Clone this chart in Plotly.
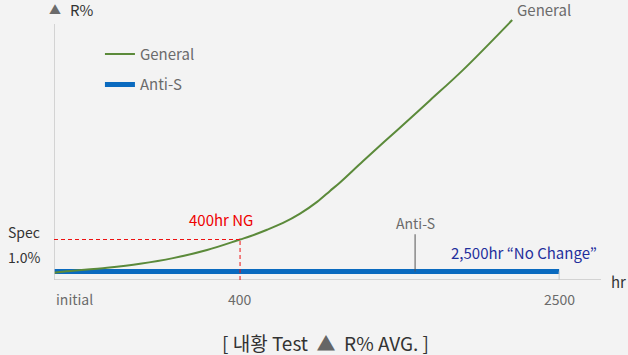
import numpy as np
import plotly.graph_objects as go

# ---- data ----
TICK_HOURS = [0, 400, 2500]
TICK_LABELS = ["initial", "400", "2500"]
TICK_POS = [0, 1, 2.715]          # broken (non-linear) time axis positions

general_hours = [0, 2, 114, 185, 256, 329, 400, 466, 578, 683, 795, 907, 992, 1058, 1210, 1434, 1651, 1868, 2191]
general_r = [0.17, 0.18, 0.30, 0.40, 0.54, 0.74, 1.00, 1.08, 1.24, 1.41, 1.64, 1.93, 2.20, 2.41, 2.94, 3.70, 4.44, 5.19, 6.42]
antis_hours = [0, 2500]
antis_r = [0.21, 0.21]
SPEC = 1.0
NG_HOUR = 400
ANTIS_LABEL_HOUR = 1552


def pos(h):
    return np.interp(h, TICK_HOURS, TICK_POS)


FONT = "Noto Sans CJK KR"
GREEN = "#5b8a3a"
BLUE = "#0a6abf"
GRAY = "#6b6b6b"
DARK = "#333333"
BG = "#f3f3f3"

fig = go.Figure()
fig.add_trace(go.Scatter(x=pos(antis_hours), y=antis_r, mode="lines", name="Anti-S",
                         line=dict(color=BLUE, width=5), legendrank=2, legendgroup="b"))
fig.add_trace(go.Scatter(x=pos(general_hours), y=general_r, mode="lines", name="General",
                         line=dict(color=GREEN, width=2, shape="spline", smoothing=1.0),
                         legendrank=1, legendgroup="a"))

x_top = 2.94
y_min, y_max = -0.0, 6.52

shapes = [
    dict(type="line", xref="x", yref="y", x0=0, x1=0, y0=0, y1=6.32,
         line=dict(color="#c8c8c8", width=1.5)),
    dict(type="line", xref="x", yref="y", x0=0, x1=x_top, y0=0, y1=0,
         line=dict(color="#c8c8c8", width=1.5)),
    dict(type="line", xref="x", yref="y", x0=0, x1=pos(NG_HOUR), y0=SPEC, y1=SPEC,
         line=dict(color="#ee1111", width=1, dash="4px,3px")),
    dict(type="line", xref="x", yref="y", x0=pos(NG_HOUR), x1=pos(NG_HOUR), y0=0, y1=SPEC,
         line=dict(color="#ee1111", width=1, dash="4px,3px")),
    dict(type="line", xref="x", yref="y", x0=pos(ANTIS_LABEL_HOUR), x1=pos(ANTIS_LABEL_HOUR),
         y0=antis_r[0], y1=1.13, line=dict(color="#555555", width=1)),
    dict(type="line", xref="x", yref="y", x0=pos(2500), x1=pos(2500), y0=0, y1=antis_r[0],
         line=dict(color="#c8c8c8", width=1)),
]

ann = []
for h, lab in zip(TICK_HOURS, TICK_LABELS):
    ann.append(dict(x=pos(h), y=0, xref="x", yref="y", text=lab, showarrow=False,
                    xanchor="left" if h == 0 else "center", yanchor="top", yshift=-7,
                    font=dict(family=FONT, size=14, color=GRAY)))
ann += [
    dict(x=1.0, y=0, xref="paper", yref="y", text="hr", showarrow=False, xanchor="left",
         yanchor="middle", xshift=8, yshift=-1, font=dict(family=FONT, size=15, color=DARK)),
    dict(x=0, y=1, xref="paper", yref="paper", text="▲", showarrow=False, xanchor="center",
         yanchor="middle", xshift=1, yshift=7, font=dict(family=FONT, size=12, color=GRAY)),
    dict(x=0, y=1, xref="paper", yref="paper", text="R%", showarrow=False, xanchor="left",
         yanchor="middle", xshift=14, yshift=7, font=dict(family=FONT, size=15, color=DARK)),
    dict(x=0, y=SPEC, xref="paper", yref="y", text="Spec", showarrow=False, xanchor="left",
         yanchor="middle", xshift=-48, yshift=8, font=dict(family=FONT, size=14, color=DARK)),
    dict(x=0, y=SPEC, xref="paper", yref="y", text="1.0%", showarrow=False, xanchor="left",
         yanchor="middle", xshift=-48, yshift=-17, font=dict(family=FONT, size=14, color=DARK)),
    dict(x=pos(NG_HOUR), y=SPEC, xref="x", yref="y", text="400hr NG", showarrow=False,
         xanchor="center", yanchor="bottom", xshift=-19, yshift=8,
         font=dict(family=FONT, size=15, color="#ee0000")),
    dict(x=pos(ANTIS_LABEL_HOUR), y=1.13, xref="x", yref="y", text="Anti-S", showarrow=False,
         xanchor="center", yanchor="bottom", yshift=-1, font=dict(family=FONT, size=14, color=GRAY)),
    dict(x=pos(2500), y=antis_r[0], xref="x", yref="y", text="2,500hr “No Change”", showarrow=False,
         xanchor="center", yanchor="bottom", xshift=-35, yshift=7,
         font=dict(family=FONT, size=15, color="#1f2f9c")),
    dict(x=pos(general_hours[-1]), y=general_r[-1], xref="x", yref="y", text="General", showarrow=False,
         xanchor="left", yanchor="bottom", xshift=3, yshift=-2,
         font=dict(family=FONT, size=15, color=GRAY)),
    dict(x=0.5, y=0, xref="paper", yref="paper", text="[ 내황 Test  <span style='color:#666666'>▲</span>  R% AVG. ]",
         showarrow=False, xanchor="center", yanchor="middle", xshift=-2, yshift=-62, borderpad=0,
         font=dict(family=FONT, size=19, color=DARK)),
]

fig.update_layout(
    width=628, height=355,
    margin=dict(l=54, r=27, t=16, b=75),
    paper_bgcolor=BG, plot_bgcolor=BG,
    showlegend=True,
    legend=dict(x=0.084, y=0.918, xanchor="left", yanchor="top", bgcolor="rgba(0,0,0,0)",
                font=dict(family=FONT, size=15, color=GRAY), tracegroupgap=8, itemwidth=30),
    xaxis=dict(range=[0, x_top], showgrid=False, zeroline=False, showline=False,
               showticklabels=False, ticks="", fixedrange=True),
    yaxis=dict(range=[y_min, y_max], showgrid=False, zeroline=False, showline=False,
               showticklabels=False, ticks="", fixedrange=True),
    shapes=shapes, annotations=ann,
)
fig.write_html("out.html")
